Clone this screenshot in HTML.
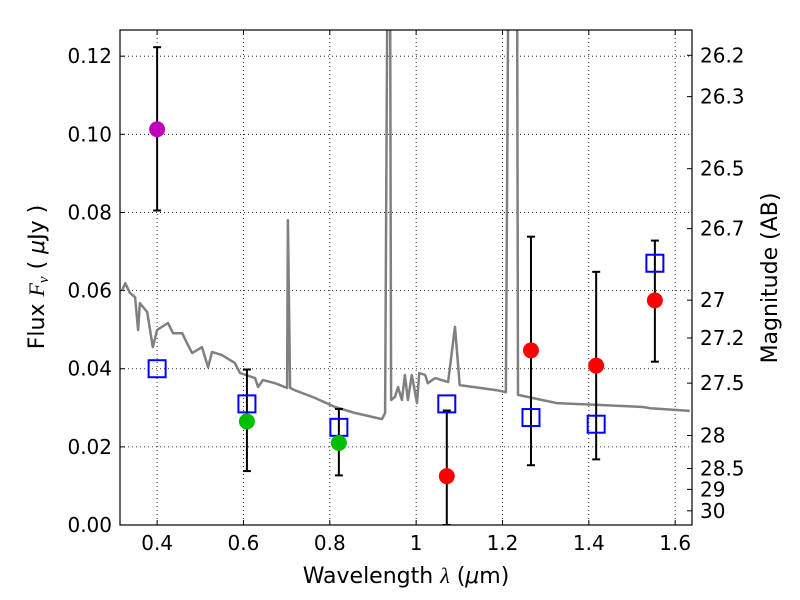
<!DOCTYPE html>
<html><head><meta charset="utf-8"><style>
body{margin:0;background:#fff}
svg{display:block;font-family:"DejaVu Sans","Liberation Sans",sans-serif}
</style></head><body>
<svg id="c" width="800" height="600" xml:space="preserve"></svg>
<script>
const specX=[0.319,0.326,0.337,0.349,0.356,0.360,0.377,0.390,0.400,0.425,0.437,0.458,0.469,0.481,0.504,0.518,0.527,0.550,0.580,0.592,0.627,0.634,0.645,0.673,0.701,0.703,0.708,0.719,0.766,0.812,0.858,0.921,0.928,0.933,0.940,0.942,0.951,0.958,0.967,0.974,0.981,0.990,1.002,1.007,1.021,1.027,1.044,1.074,1.090,1.101,1.187,1.208,1.213,1.234,1.236,1.326,1.433,1.525,1.542,1.634];
const specY=[0.0601,0.0619,0.0594,0.0583,0.0499,0.0568,0.0545,0.0455,0.0499,0.0517,0.0491,0.0491,0.0466,0.0440,0.0455,0.0404,0.0443,0.0435,0.0415,0.0389,0.0376,0.0353,0.0371,0.0363,0.0351,0.0780,0.0351,0.0345,0.0325,0.0302,0.0287,0.0271,0.0287,0.1300,0.1300,0.0320,0.0328,0.0353,0.0320,0.0384,0.0320,0.0384,0.0312,0.0389,0.0384,0.0363,0.0376,0.0366,0.0507,0.0358,0.0345,0.0340,0.1300,0.1300,0.0333,0.0312,0.0307,0.0302,0.0299,0.0292];
const bandX=[0.400,0.608,0.821,1.071,1.266,1.417,1.553];
const modelFlux=[0.040,0.031,0.025,0.031,0.0275,0.0258,0.067];
const obsX=[0.400,0.608,0.821,1.071,1.266,1.417,1.553];
const obsFlux=[0.1013,0.0265,0.021,0.0125,0.0447,0.0408,0.0575];
const obsLo=[0.0805,0.0138,0.0127,0.0,0.0153,0.0168,0.0418];
const obsHi=[0.1223,0.0398,0.0297,0.0293,0.0738,0.0648,0.0728];
const obsColor=['#bf00bf','#00bf00','#00bf00','#ff0000','#ff0000','#ff0000','#ff0000'];
const xTicks=[0.4,0.6,0.8,1.0,1.2,1.4,1.6];
const xTickLabels=['0.4','0.6','0.8','1','1.2','1.4','1.6'];
const yTicks=[0,0.02,0.04,0.06,0.08,0.10,0.12];
const yTickLabels=['0.00','0.02','0.04','0.06','0.08','0.10','0.12'];
const magTicks=[26.2,26.3,26.5,26.7,27,27.2,27.5,28,28.5,29,30];
const magLabels=['26.2','26.3','26.5','26.7','27','27.2','27.5','28','28.5','29','30'];

const L=120,R=692,T=30,B=525,X0=0.314,X1=1.639,Y0=0,Y1=0.1267;
const sx=v=>L+(v-X0)/(X1-X0)*(R-L);
const sy=v=>B-(v-Y0)/(Y1-Y0)*(B-T);
const svg=document.getElementById('c');const NS='http://www.w3.org/2000/svg';
function mk(t,a,p){const e=document.createElementNS(NS,t);for(const k in a)e.setAttribute(k,a[k]);(p||svg).appendChild(e);return e;}
const defs=mk('defs',{});const cp=mk('clipPath',{id:'cl'},defs);mk('rect',{x:L,y:T,width:R-L,height:B-T},cp);
const grid=mk('g',{});


xTicks.forEach((v,i)=>{const x=sx(v);
 mk('line',{x1:x,x2:x,y1:T,y2:B,stroke:'#000','stroke-width':0.8,'stroke-dasharray':'1,3'},grid);
 mk('line',{x1:x,x2:x,y1:B,y2:B-5,stroke:'#000'});mk('line',{x1:x,x2:x,y1:T,y2:T+5,stroke:'#000'});
 const t=mk('text',{x:x,y:B+25,'text-anchor':'middle','font-size':20});t.textContent=xTickLabels[i];
 
 });
yTicks.forEach((v,i)=>{const y=sy(v);
 mk('line',{x1:L,x2:R,y1:y,y2:y,stroke:'#000','stroke-width':0.8,'stroke-dasharray':'1,3'},grid);
 mk('line',{x1:L,x2:L+5,y1:y,y2:y,stroke:'#000'});
 const t=mk('text',{x:L-8,y:y+7,'text-anchor':'end','font-size':20});t.textContent=yTickLabels[i];
 
 });
magTicks.forEach((m,i)=>{const f=Math.pow(10,(23.9-m)/2.5);const y=sy(f);
 mk('line',{x1:R,x2:R-5,y1:y,y2:y,stroke:'#000'});
 const t=mk('text',{x:R+8,y:y+7,'font-size':20});t.textContent=magLabels[i];
 
 });
const g=mk('g',{'clip-path':'url(#cl)'});
let d='';specX.forEach((v,i)=>{d+=(i?'L':'M')+sx(v).toFixed(1)+','+sy(specY[i]).toFixed(1);});
const sp=mk('path',{d:d,fill:'none',stroke:'#808080','stroke-width':2.5,'stroke-linejoin':'round'},g);


obsX.forEach((v,i)=>{const x=sx(v);
 const e=mk('g',{},g);
 
 
 mk('line',{x1:x,x2:x,y1:sy(obsLo[i]),y2:sy(obsHi[i]),stroke:'#000','stroke-width':2},e);
 mk('line',{x1:x-4,x2:x+4,y1:sy(obsLo[i]),y2:sy(obsLo[i]),stroke:'#000','stroke-width':2},e);
 mk('line',{x1:x-4,x2:x+4,y1:sy(obsHi[i]),y2:sy(obsHi[i]),stroke:'#000','stroke-width':2},e);});
bandX.forEach((v,i)=>{const r=mk('rect',{x:sx(v)-8.5,y:sy(modelFlux[i])-8.5,width:17,height:17,fill:'none',stroke:'#0000ff','stroke-width':2},g);
 
 });
obsX.forEach((v,i)=>{const c=mk('circle',{cx:sx(v),cy:sy(obsFlux[i]),r:8,fill:obsColor[i]},g);
 
 });
const fr=mk('rect',{x:L,y:T,width:R-L,height:B-T,fill:'none',stroke:'#000','stroke-width':1.2});


const xt=mk('text',{x:406,y:583,'text-anchor':'middle','font-size':22});
xt.innerHTML='Wavelength  <tspan font-style="italic" font-family="Liberation Serif">λ</tspan> (<tspan font-style="italic">μ</tspan>m)';


const yt=mk('text',{x:0,y:0,'text-anchor':'middle','font-size':22,transform:'translate(44,277) rotate(-90)'});
yt.innerHTML='Flux   <tspan font-style="italic" font-family="Liberation Serif">F</tspan><tspan font-style="italic" font-size="15" dy="4" font-family="Liberation Serif">ν</tspan><tspan dy="-4">   (  </tspan><tspan font-style="italic">μ</tspan>Jy )';


const rt=mk('text',{x:0,y:0,'text-anchor':'middle','font-size':22,transform:'translate(777,278) rotate(-90)'});rt.textContent='Magnitude (AB)';


</script>
</body></html>
